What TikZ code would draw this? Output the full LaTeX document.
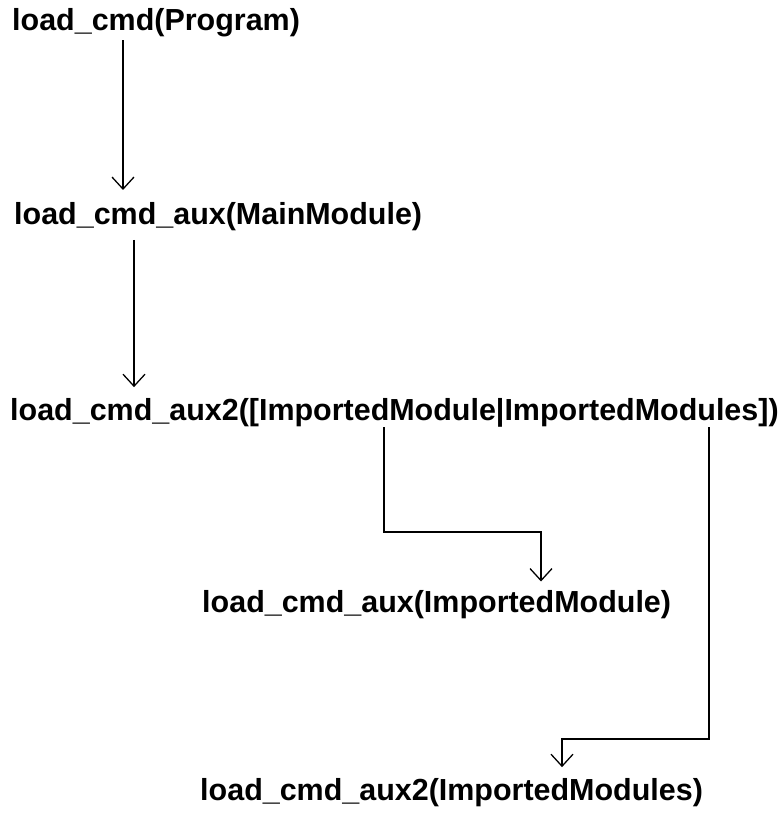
\documentclass[tikz,border=0pt]{standalone}
\usepackage{fontspec}
\setmainfont{Liberation Sans}
\usetikzlibrary{arrows.meta,calc}

\begin{document}
\begin{tikzpicture}[x=0.3mm,y=-0.3mm,>={Straight Barb[length=3.6mm,width=6.6mm]},
  call/.style={anchor=base west,inner sep=0pt,font=\fontsize{26}{30}\selectfont\bfseries},
  link/.style={->,line width=1.1pt}]
  \useasboundingbox (0,0) rectangle (781,821);
  \node[call] (prog) at (12,30) {load\_cmd(Program)};
  \node[call] (mainmod) at (14,224) {load\_cmd\_aux(MainModule)};
  \node[call] (args) at (10,420) {load\_cmd\_aux2([ImportedModule|ImportedModules])};
  \node[call] (onemod) at (202,612) {load\_cmd\_aux(ImportedModule)};
  \node[call] (restmods) at (200,800) {load\_cmd\_aux2(ImportedModules)};
  \draw[link,shorten <=3pt,shorten >=10pt] (prog.south -| 123,0) -- (mainmod.north -| 123,0);
  \draw[link,shorten <=8pt,shorten >=9pt] (mainmod.south -| 134,0) -- (args.north -| 134,0);
  \draw[link,shorten >=7pt] (args.south -| 384,0) -- ++(0,105) -| (onemod.north -| 541,0);
  \draw[link,shorten >=9pt] (args.south -| 709,0) -- ++(0,312) -| (restmods.north -| 562,0);
\end{tikzpicture}
\end{document}
